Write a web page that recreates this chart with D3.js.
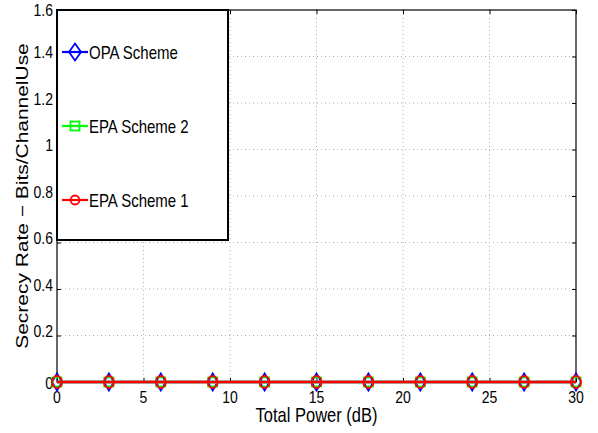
<!DOCTYPE html>
<html>
<head>
<meta charset="utf-8">
<script src="https://cdn.jsdelivr.net/npm/d3@7"></script>
<style>
  body { margin: 0; background: #fff; }
  text { font-family: "Liberation Sans", Arial, sans-serif; fill: #000; }
</style>
</head>
<body>
<div id="chart"></div>
<script>
// data
const powerDb = [0, 3, 6, 9, 12, 15, 18, 21, 24, 27, 30];
const opaScheme = [0, 0, 0, 0, 0, 0, 0, 0, 0, 0, 0];
const epaScheme2 = [0, 0, 0, 0, 0, 0, 0, 0, 0, 0, 0];
const epaScheme1 = [0, 0, 0, 0, 0, 0, 0, 0, 0, 0, 0];
const xTicks = [0, 5, 10, 15, 20, 25, 30];
const yTicks = [0, 0.2, 0.4, 0.6, 0.8, 1, 1.2, 1.4, 1.6];

const series = [
  { name: 'OPA Scheme', values: opaScheme, color: '#0000ff', marker: 'diamond' },
  { name: 'EPA Scheme 2', values: epaScheme2, color: '#00ff00', marker: 'square' },
  { name: 'EPA Scheme 1', values: epaScheme1, color: '#ff0000', marker: 'circle' }
];

const width = 598, height = 433;
const margin = { left: 57, right: 22, top: 10, bottom: 51 };
const innerW = width - margin.left - margin.right;
const innerH = height - margin.top - margin.bottom;
// text in the original is taller than it is wide
const tickStretch = 1.2;
const textStretch = 1.27;

const svg = d3.select('#chart').append('svg')
  .attr('width', width)
  .attr('height', height);

const g = svg.append('g')
  .attr('transform', `translate(${margin.left},${margin.top})`);

const x = d3.scaleLinear().domain([0, 30]).range([0, innerW]);
const y = d3.scaleLinear().domain([0, 1.6]).range([innerH, 0]);

// grid
g.append('g').selectAll('line')
  .data(xTicks.slice(1, -1))
  .enter().append('line')
  .attr('x1', d => x(d)).attr('x2', d => x(d))
  .attr('y1', 0).attr('y2', innerH)
  .attr('stroke', '#b0b0b0').attr('stroke-dasharray', '1,3');

g.append('g').selectAll('line')
  .data(yTicks.slice(1, -1))
  .enter().append('line')
  .attr('x1', 0).attr('x2', innerW)
  .attr('y1', d => y(d)).attr('y2', d => y(d))
  .attr('stroke', '#b0b0b0').attr('stroke-dasharray', '1,3');

// axes, ticks pointing inward on all sides
const fmt = d => String(+d.toFixed(1));
function styleAxis(sel) {
  sel.select('.domain').remove();
  sel.selectAll('.tick line').attr('stroke', '#000');
  sel.selectAll('.tick text').remove();
}
g.append('g').attr('transform', `translate(0,${innerH})`)
  .call(d3.axisBottom(x).tickValues(xTicks).tickSizeInner(-4).tickSizeOuter(0)).call(styleAxis);
g.append('g')
  .call(d3.axisTop(x).tickValues(xTicks).tickSizeInner(-4).tickSizeOuter(0)).call(styleAxis);
g.append('g')
  .call(d3.axisLeft(y).tickValues(yTicks).tickSizeInner(-4).tickSizeOuter(0)).call(styleAxis);
g.append('g').attr('transform', `translate(${innerW},0)`)
  .call(d3.axisRight(y).tickValues(yTicks).tickSizeInner(-4).tickSizeOuter(0)).call(styleAxis);

// tick labels
g.append('g').selectAll('text')
  .data(xTicks)
  .enter().append('text')
  .attr('transform', d => `translate(${x(d)},${innerH + 21}) scale(1,${tickStretch})`)
  .attr('text-anchor', 'middle')
  .style('font-size', '14px')
  .text(fmt);

g.append('g').selectAll('text')
  .data(yTicks)
  .enter().append('text')
  .attr('transform', d => {
    let ty = y(d) + (d === 0 ? 7 : 1.5);
    ty = Math.max(ty, 5.5); // keep the top label inside the page
    return `translate(-4,${ty}) scale(1,${tickStretch})`;
  })
  .attr('text-anchor', 'end')
  .style('font-size', '14px')
  .text(fmt);

// box
g.append('rect')
  .attr('width', innerW).attr('height', innerH)
  .attr('fill', 'none').attr('stroke', '#000').attr('stroke-width', 1.2);

// markers
function drawMarker(sel, type, color, big) {
  if (type === 'diamond') {
    sel.append('path').attr('d', big ? 'M0,-8.5L5,0L0,8.5L-5,0Z' : 'M0,-8.5L6,0L0,8.5L-6,0Z');
  } else if (type === 'square') {
    sel.append('rect').attr('x', -4.5).attr('y', -4.5).attr('width', 9).attr('height', 9);
  } else if (big) {
    sel.append('ellipse').attr('rx', 5).attr('ry', 6);
  } else {
    sel.append('ellipse').attr('rx', 4.5).attr('ry', 4.5);
  }
  sel.selectAll('path,rect,ellipse')
    .attr('fill', 'none').attr('stroke', color).attr('stroke-width', 1.8);
}

const line = d3.line().x((d, i) => x(powerDb[i])).y(d => y(d));

series.forEach(s => {
  const sg = g.append('g');
  sg.append('path')
    .datum(s.values)
    .attr('d', line)
    .attr('fill', 'none')
    .attr('stroke', s.color)
    .attr('stroke-width', 2.6);
  sg.selectAll('.m')
    .data(s.values)
    .enter().append('g')
    .attr('transform', (d, i) => `translate(${x(powerDb[i])},${y(d)})`)
    .each(function() { drawMarker(d3.select(this), s.marker, s.color, true); });
});

// legend
const legend = g.append('g');
legend.append('rect')
  .attr('x', 0).attr('y', 0)
  .attr('width', 171).attr('height', 230)
  .attr('fill', '#fff').attr('stroke', '#000').attr('stroke-width', 2);

series.forEach((s, i) => {
  const ly = 42 + i * 74;
  const lg = legend.append('g');
  lg.append('line')
    .attr('x1', 5).attr('x2', 31)
    .attr('y1', ly).attr('y2', ly)
    .attr('stroke', s.color).attr('stroke-width', 2.2);
  const mg = lg.append('g').attr('transform', `translate(18,${ly})`);
  drawMarker(mg, s.marker, s.color, false);
  lg.append('text')
    .attr('transform', `translate(32,${ly + 7}) scale(1,${textStretch})`)
    .style('font-size', '15px')
    .text(s.name);
});

// axis titles
svg.append('text')
  .attr('transform', `translate(${margin.left + innerW / 2},${height - 11.5}) scale(1,${textStretch})`)
  .attr('text-anchor', 'middle')
  .style('font-size', '16.5px')
  .text('Total Power (dB)');

svg.append('text')
  .attr('transform', `translate(28,${margin.top + innerH / 2}) scale(1,${textStretch}) rotate(-90)`)
  .attr('text-anchor', 'middle')
  .style('font-size', '16.5px')
  .text('Secrecy Rate \u2212 Bits/ChannelUse');
</script>
</body>
</html>
